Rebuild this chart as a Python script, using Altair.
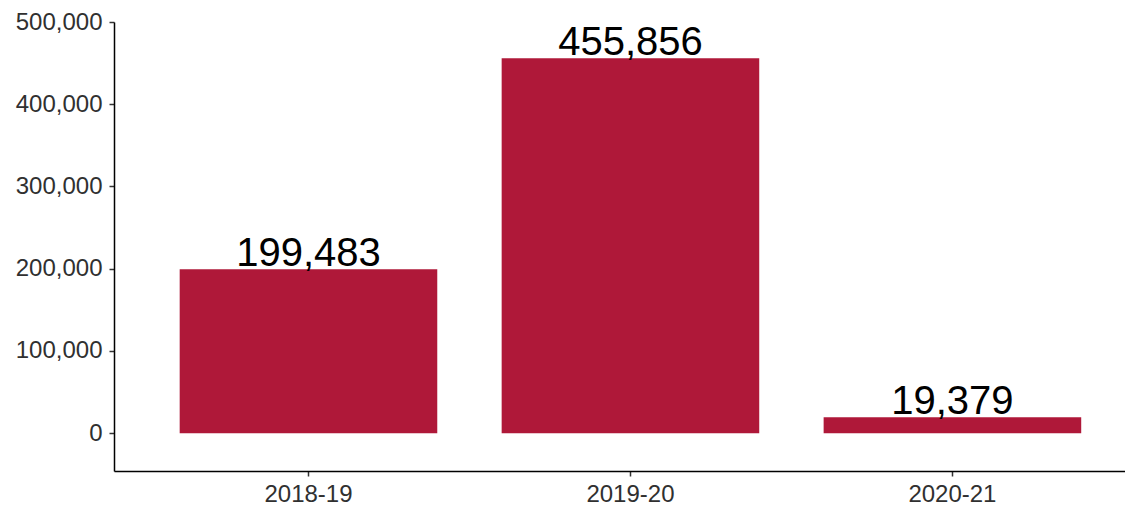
import altair as alt
import pandas as pd

years = ["2018-19", "2019-20", "2020-21"]
values = [199483, 455856, 19379]
y_ticks = [0, 100000, 200000, 300000, 400000, 500000]

df = pd.DataFrame({"year": years, "value": values})

FONT = "Liberation Sans"

axis_common = dict(
    labelFontSize=24,
    labelColor="#303030",
    labelFont=FONT,
    tickSize=5,
    tickColor="#333333",
    tickWidth=1.5,
    domainColor="#000000",
    domainWidth=1.5,
    grid=False,
)

base = alt.Chart(df).encode(
    x=alt.X(
        "year:N",
        sort=years,
        title=None,
        scale=alt.Scale(paddingInner=0.2, paddingOuter=0.17, align=0.6),
        axis=alt.Axis(labelAngle=0, labelPadding=6, **axis_common),
    ),
    y=alt.Y(
        "value:Q",
        title=None,
        scale=alt.Scale(domain=[-46000, 500000], nice=False, zero=False),
        axis=alt.Axis(values=y_ticks, format=",d", labelPadding=7, **axis_common),
    ),
)

bars = base.mark_bar(color="#AF1839")

labels = base.mark_text(
    fontSize=40, font=FONT, color="#000000", baseline="alphabetic", dy=-3
).encode(text=alt.Text("value:Q", format=",d"))

chart = (
    (bars + labels)
    .properties(
        width=1011,
        height=449,
        background="white",
        autosize=alt.AutoSizeParams(type="none"),
        padding={"left": 106, "top": 14, "right": 0, "bottom": 40},
    )
    .configure_view(strokeWidth=0, stroke=None)
    .configure_axis(grid=False)
)

chart.save("out.html", embed_options={"renderer": "svg", "actions": False})
